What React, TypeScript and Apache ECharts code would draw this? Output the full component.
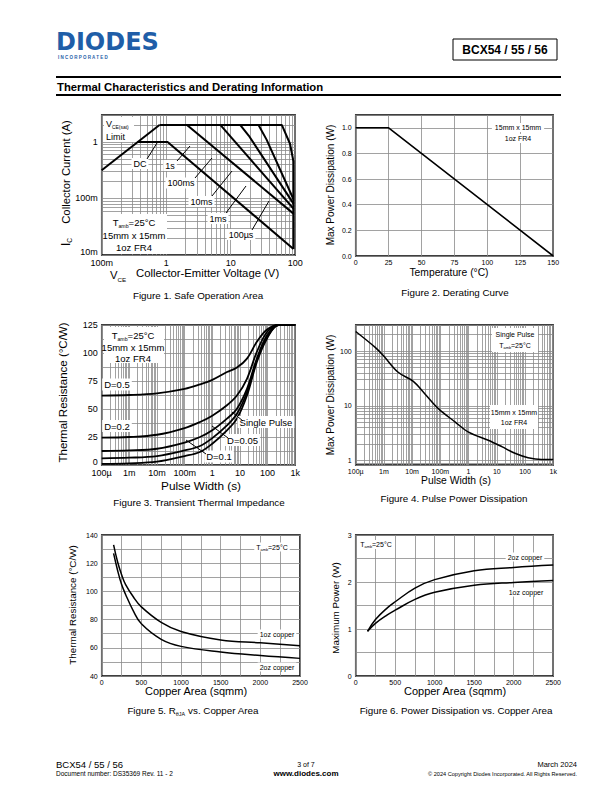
import React, { useEffect, useRef } from "react";
import * as echarts from "echarts";

const FONT = '"Liberation Sans", Arial, Helvetica, sans-serif';
const GRID = "#8a8a8a";

// ---------- Figure 1: Safe Operation Area (V, A) ----------
const soaLimit = [[0.1, 0.315], [0.786, 2.0]];
const soaDC = [[0.36, 1.0], [1.05, 1.0], [94, 0.0128]];
const soa1s = [[2.1, 2.0], [94, 0.054]];
const soa100ms = [[6.9, 2.0], [94, 0.066]];
const soa10ms = [[14, 2.0], [19, 1.3], [94, 0.081]];
const soa1ms = [[27, 2.0], [36, 1.1], [94, 0.097]];
const soa100us = [[0.786, 2.0], [62, 2.0], [83, 0.93], [94, 0.45], [94, 0.0128]];

// ---------- Figure 2: Derating curve ----------
const derating = [[0, 1.0], [25, 1.0], [150, 0.0]];

// ---------- Figure 3: Transient thermal impedance ----------
const pulseT = [1e-4, 1e-3, 1e-2, 0.1, 0.36, 1, 3.4, 7.8, 18, 41, 96, 250, 1000];
const zD05 = [62, 62.5, 64, 68, 72, 76, 83, 87, 95, 110, 121, 125, 125];
const zD02 = [24.5, 25, 27, 33, 38.4, 44, 53.3, 62, 77, 101, 118.8, 125, 125];
const zD01 = [12.5, 13, 14.5, 20, 25, 31, 41.4, 50.3, 68, 95, 115.8, 125, 125];
const zD005 = [6, 6.5, 8, 13, 17, 24, 35.4, 45.8, 65, 93.5, 114, 125, 125];
const zSingle = [1, 1.5, 3, 8, 11.6, 19, 31, 41.4, 62, 92, 113, 125, 125];

// ---------- Figure 4: Pulse power dissipation ----------
const ppT = [1e-4, 4.8e-4, 9.5e-4, 3.2e-3, 1.1e-2, 2.8e-2, 8.5e-2, 0.33, 1, 5, 15, 44, 129, 385, 1000];
const ppW = [228, 118, 83, 41, 28, 16.7, 8.9, 5.1, 3.3, 2.35, 1.8, 1.36, 1.13, 1.05, 1.05];

// ---------- Figure 5 / 6: copper area ----------
const cuArea = [150, 200, 250, 300, 400, 500, 750, 1000, 1500, 2000, 2500];
const rth1oz = [133, 121, 112, 105, 96, 89, 78, 71.5, 65.5, 63.5, 61.5];
const rth2oz = [127, 115, 105, 98, 86, 77, 66, 61, 57, 54.5, 52.5];
const pwArea = [150, 250, 400, 500, 750, 1000, 1500, 2000, 2500];
const pw2oz = [0.95, 1.2, 1.45, 1.58, 1.87, 2.05, 2.24, 2.31, 2.36];
const pw1oz = [0.95, 1.12, 1.3, 1.4, 1.63, 1.78, 1.93, 1.99, 2.03];

// tick label maps
const soaXLabels: Record<number, string> = { [-1]: "100m", 0: "1", 1: "10", 2: "100" };
const soaYLabels: Record<number, string> = { [-2]: "{lo|10m}", [-1]: "100m", 0: "1" };
const pulseLabels: Record<number, string> = { [-4]: "100\u00b5", [-3]: "1m", [-2]: "10m", [-1]: "100m", 0: "1", 1: "10", 2: "100", 3: "1k" };
const ppYLabels: Record<number, string> = { 0: "1", 1: "10", 2: "100" };

function logFmt(map: Record<number, string>) {
  return (v: number) => {
    const l = Math.log10(v);
    const e = Math.round(l);
    if (Math.abs(l - e) > 0.01) return "";
    return map[e] ?? "";
  };
}

function logMinors(lo: number, hi: number) {
  const out: number[] = [];
  for (let e = -6; e <= 4; e++) {
    for (let d = 2; d <= 9; d++) {
      const v = d * Math.pow(10, e);
      if (v > lo * 1.001 && v < hi * 0.999) out.push(v);
    }
  }
  return out;
}

function zip(xs: number[], ys: number[]) {
  return xs.map((x, i) => [x, ys[i]]);
}

function curve(idx: number, data: number[][], width = 2, smooth: number | boolean = false) {
  return {
    type: "line",
    xAxisIndex: idx,
    yAxisIndex: idx,
    data,
    symbol: "none",
    showSymbol: false,
    smooth,
    silent: true,
    z: 5,
    lineStyle: { color: "#000", width },
  };
}

function gridLines(idx: number, xr: number[], yr: number[], xs: number[], ys: number[], width = 0.8) {
  return {
    type: "line",
    xAxisIndex: idx,
    yAxisIndex: idx,
    data: [],
    silent: true,
    z: 1,
    markLine: {
      silent: true,
      animation: false,
      symbol: ["none", "none"],
      label: { show: false },
      emphasis: { disabled: true },
      lineStyle: { color: GRID, width, type: "solid" },
      data: [
        ...xs.map((v) => [{ coord: [v, yr[0]] }, { coord: [v, yr[1]] }]),
        ...ys.map((v) => [{ coord: [xr[0], v] }, { coord: [xr[1], v] }]),
      ],
    },
  };
}

function T(text: string, x: number, y: number, fontSize: number, o: any = {}) {
  return {
    type: "text",
    x,
    y,
    z: 100,
    silent: true,
    rotation: o.rot || 0,
    style: {
      text,
      fontSize,
      fontFamily: o.family || FONT,
      fontWeight: o.bold ? "bold" : "normal",
      fill: o.fill || "#000",
      align: o.align || "left",
      verticalAlign: "middle",
      backgroundColor: o.bg,
      padding: o.pad,
    },
  };
}

// rich text with subscripts
function R(parts: [string, boolean][], x: number, y: number, fs: number, o: any = {}) {
  const text = parts.map(([s, sub]) => `{${sub ? "s" : "n"}|${s}}`).join("");
  return {
    type: "text",
    x,
    y,
    z: 100,
    silent: true,
    rotation: o.rot || 0,
    style: {
      text,
      fontFamily: FONT,
      align: o.align || "left",
      verticalAlign: "middle",
      backgroundColor: o.bg,
      padding: o.pad,
      rich: {
        n: { fontSize: fs, lineHeight: fs * 1.3, fontFamily: FONT, fill: "#000", color: "#000", fontWeight: o.bold ? "bold" : "normal" },
        s: { fontSize: fs * 0.55, lineHeight: fs * 0.75, verticalAlign: "bottom", fontFamily: FONT, fill: "#000", color: "#000" },
      },
    },
  };
}

function L(x1: number, y1: number, x2: number, y2: number, w = 1) {
  return { type: "line", z: 101, silent: true, shape: { x1, y1, x2, y2 }, style: { stroke: "#000", lineWidth: w } };
}

function WR(x: number, y: number, w: number, h: number) {
  return { type: "rect", z: 99, silent: true, shape: { x, y, width: w, height: h }, style: { fill: "#fff" } };
}

const gridBase = { show: true, borderColor: "#000", borderWidth: 1.5, backgroundColor: "#fff", containLabel: false, outerBoundsMode: "none" };

function axisCommon(fs: number, margin: number, fmt?: any) {
  return {
    axisLine: { show: false },
    axisTick: { show: false },
    splitLine: { show: true, lineStyle: { color: GRID, width: 0.8 } },
    axisLabel: {
      fontFamily: FONT,
      fontSize: fs,
      color: "#000",
      margin,
      formatter: fmt,
      showMinLabel: true,
      showMaxLabel: true,
      hideOverlap: false,
      rich: { lo: { fontFamily: FONT, fontSize: fs, color: "#000", padding: [0, 0, 7, 0] } },
    },
  };
}

export default function App() {
  const ref = useRef<HTMLDivElement>(null);
  useEffect(() => {
    if (!ref.current) return;
    const chart = echarts.init(ref.current, undefined, { renderer: "svg" });

    const grids = [
      { left: 101.7, top: 115, width: 193.5, height: 140 },
      { left: 355.7, top: 115, width: 197.5, height: 141 },
      { left: 101.7, top: 325, width: 193.5, height: 140 },
      { left: 355.7, top: 325, width: 197.5, height: 140 },
      { left: 101.7, top: 535, width: 198.3, height: 141 },
      { left: 355.7, top: 535, width: 197.5, height: 141 },
    ].map((g) => ({ ...gridBase, ...g }));

    const minorLin = (n: number) => ({ minorTick: { show: false, splitNumber: n }, minorSplitLine: { show: true, lineStyle: { color: GRID, width: 0.8 } } });

    const xAxis = [
      { gridIndex: 0, type: "log", logBase: 10, min: 0.1, max: 100, ...axisCommon(9, 3, logFmt(soaXLabels)) },
      { gridIndex: 1, type: "value", min: 0, max: 150, interval: 25, ...axisCommon(7, 3, (v: number) => String(v)) },
      { gridIndex: 2, type: "log", logBase: 10, min: 1e-4, max: 1000, ...axisCommon(9, 3, logFmt(pulseLabels)) },
      { gridIndex: 3, type: "log", logBase: 10, min: 1e-4, max: 1000, ...axisCommon(7, 3, logFmt(pulseLabels)) },
      { gridIndex: 4, type: "value", min: 0, max: 2500, interval: 500, ...axisCommon(7, 3, (v: number) => String(v)), ...minorLin(2) },
      { gridIndex: 5, type: "value", min: 0, max: 2500, interval: 500, ...axisCommon(7, 3, (v: number) => String(v)), ...minorLin(2) },
    ];
    const yAxis = [
      { gridIndex: 0, type: "log", logBase: 10, min: 0.01, max: 3, ...axisCommon(9, 4, logFmt(soaYLabels)) },
      { gridIndex: 1, type: "value", min: 0, max: 1.1, interval: 0.2, ...axisCommon(7, 4, (v: number) => (v > 1.05 ? "" : v.toFixed(1))) },
      { gridIndex: 2, type: "value", min: 0, max: 125, interval: 25, ...axisCommon(9, 4, (v: number) => (v === 0 ? "{lo|0}" : String(v))), ...minorLin(2) },
      { gridIndex: 3, type: "log", logBase: 10, min: 0.83, max: 300, ...axisCommon(7, 4, logFmt(ppYLabels)) },
      { gridIndex: 4, type: "value", min: 40, max: 140, interval: 20, ...axisCommon(7, 4, (v: number) => String(v)), ...minorLin(2) },
      { gridIndex: 5, type: "value", min: 0, max: 3, interval: 1, ...axisCommon(7, 4, (v: number) => String(v)), ...minorLin(2) },
    ];

    const series: any[] = [
      gridLines(0, [0.1, 100], [0.01, 3], logMinors(0.1, 100), logMinors(0.01, 3)),
      gridLines(2, [1e-4, 1000], [0, 125], logMinors(1e-4, 1000), []),
      gridLines(3, [1e-4, 1000], [0.83, 300], logMinors(1e-4, 1000), logMinors(0.83, 300)),
      // fig 1
      curve(0, soaLimit, 2),
      curve(0, soaDC, 2),
      curve(0, soa1s, 2),
      curve(0, soa100ms, 2),
      curve(0, soa10ms, 2),
      curve(0, soa1ms, 2),
      curve(0, soa100us, 2),
      // fig 2
      curve(1, derating, 1.6),
      // fig 3
      curve(2, zip(pulseT, zD05), 1.8, 0.35),
      curve(2, zip(pulseT, zD02), 1.8, 0.35),
      curve(2, zip(pulseT, zD01), 1.8, 0.35),
      curve(2, zip(pulseT, zD005), 1.8, 0.35),
      curve(2, zip(pulseT, zSingle), 1.8, 0.35),
      // fig 4
      curve(3, zip(ppT, ppW), 1.5, 0.35),
      // fig 5
      curve(4, zip(cuArea, rth1oz), 1.5, 0.4),
      curve(4, zip(cuArea, rth2oz), 1.5, 0.4),
      // fig 6
      curve(5, zip(pwArea, pw2oz), 1.5, 0.4),
      curve(5, zip(pwArea, pw1oz), 1.5, 0.4),
    ];

    const rot = Math.PI / 2;
    const graphic: any[] = [
      // header
      T("DIODES", 56, 42, 24, { bold: true, family: '"DejaVu Sans", sans-serif', fill: "#1f5ea8" }),
      T("I N C O R P O R A T E D", 58, 57, 4.5, { bold: true, fill: "#1f5ea8" }),
      { type: "rect", z: 100, silent: true, shape: { x: 453, y: 39, width: 104, height: 21 }, style: { fill: "none", stroke: "#000", lineWidth: 1 } },
      T("BCX54 / 55 / 56", 505, 49.5, 12, { bold: true, align: "center" }),
      L(56, 77, 561, 77, 2),
      T("Thermal Characteristics and Derating Information", 57, 86.5, 11.3, { bold: true }),
      L(56, 95, 561, 95, 2),

      // ---- Fig 1 annotations
      WR(104, 117, 30, 25),
      R([["V", false], ["CE(sat)", true]], 106, 124, 9),
      T("Limit", 106, 137, 9),
      T("DC", 140, 163.5, 9, { align: "center", bg: "#fff", pad: [1, 2] }),
      L(147, 159, 157, 143),
      T("1s", 170, 165.5, 9, { align: "center", bg: "#fff", pad: [1, 2] }),
      L(177, 161, 190, 146),
      T("100ms", 181, 183, 9, { align: "center", bg: "#fff", pad: [1, 2] }),
      L(195, 178, 212, 158),
      T("10ms", 201.5, 201.5, 9, { align: "center", bg: "#fff", pad: [1, 2] }),
      L(212, 196, 232, 171),
      T("1ms", 218, 218.5, 9, { align: "center", bg: "#fff", pad: [1, 2] }),
      L(226, 213, 246, 186),
      T("100\u00b5s", 241, 234.5, 9, { align: "center", bg: "#fff", pad: [1, 2] }),
      L(252, 230, 269, 201),
      WR(103, 214, 64, 40),
      R([["T", false], ["amb", true], ["=25\u00b0C", false]], 134, 222, 9.5, { align: "center" }),
      T("15mm x 15mm", 134, 235, 9.5, { align: "center" }),
      T("1oz FR4", 134, 247.5, 9.5, { align: "center" }),
      // Fig 1 axis titles
      R([["I", false], ["C", true]], 65.5, 242, 12, { align: "center", rot }),
      T("Collector Current (A)", 65.5, 172, 11.3, { align: "center", rot }),
      R([["V", false], ["CE", true]], 110, 275, 11.3),
      T("Collector-Emitter Voltage (V)", 136, 273, 11.3),
      T("Figure 1. Safe Operation Area", 198, 295.5, 9.8, { align: "center" }),

      // ---- Fig 2
      T("15mm x 15mm", 518, 127.5, 7, { align: "center", bg: "#fff", pad: [1, 3] }),
      T("1oz FR4", 518, 138.5, 7, { align: "center", bg: "#fff", pad: [1, 3] }),
      T("Max Power Dissipation (W)", 330.5, 185, 10, { align: "center", rot }),
      T("Temperature (\u00b0C)", 449, 272.5, 10.3, { align: "center" }),
      T("Figure 2. Derating Curve", 455, 292, 9.8, { align: "center" }),

      // ---- Fig 3
      WR(104, 327, 60, 36),
      R([["T", false], ["amb", true], ["=25\u00b0C", false]], 133, 335.5, 9.5, { align: "center" }),
      T("15mm x 15mm", 133, 347.5, 9.5, { align: "center" }),
      T("1oz FR4", 133, 358.5, 9.5, { align: "center" }),
      T("D=0.5", 117, 384.5, 9.5, { align: "center", bg: "#fff", pad: [1, 2] }),
      T("D=0.2", 117, 426, 9.5, { align: "center", bg: "#fff", pad: [1, 2] }),
      T("Single Pulse", 266, 422, 9.5, { align: "center", bg: "#fff", pad: [1, 2] }),
      L(243, 421, 232, 412),
      T("D=0.05", 242.5, 440, 9.5, { align: "center", bg: "#fff", pad: [1, 2] }),
      L(228, 438, 212, 426),
      T("D=0.1", 219, 456.5, 9.5, { align: "center", bg: "#fff", pad: [1, 2] }),
      L(206, 454, 186, 440),
      T("Thermal Resistance (\u00b0C/W)", 62.5, 392.5, 11.5, { align: "center", rot }),
      T("Pulse Width (s)", 201, 485.5, 11.8, { align: "center" }),
      T("Figure 3. Transient Thermal Impedance", 199, 502.5, 9.8, { align: "center" }),

      // ---- Fig 4
      WR(492, 328, 46, 24),
      T("Single Pulse", 515, 334.5, 7, { align: "center" }),
      R([["T", false], ["amb", true], ["=25\u00b0C", false]], 515, 345.5, 7, { align: "center" }),
      WR(490, 405, 48, 24),
      T("15mm x 15mm", 514, 412.5, 7, { align: "center" }),
      T("1oz FR4", 514, 422.5, 7, { align: "center" }),
      T("Max Power Dissipation (W)", 330.5, 395, 10, { align: "center", rot }),
      T("Pulse Width (s)", 456, 480.5, 10.3, { align: "center" }),
      T("Figure 4. Pulse Power Dissipation", 454, 498.5, 9.8, { align: "center" }),

      // ---- Fig 5
      R([["T", false], ["amb", true], ["=25\u00b0C", false]], 272, 547, 7, { align: "center", bg: "#fff", pad: [0, 2] }),
      T("1oz copper", 277, 634, 7, { align: "center", bg: "#fff", pad: [1, 2] }),
      T("2oz copper", 277, 667, 7, { align: "center", bg: "#fff", pad: [1, 2] }),
      T("Thermal Resistance (\u00b0C/W)", 72, 605, 9.8, { align: "center", rot }),
      T("Copper Area (sqmm)", 196, 691, 11, { align: "center" }),
      R([["Figure 5. R", false], ["\u03b8JA", true], [" vs. Copper Area", false]], 193, 710, 9.8, { align: "center" }),

      // ---- Fig 6
      R([["T", false], ["amb", true], ["=25\u00b0C", false]], 376, 544.5, 7, { align: "center", bg: "#fff", pad: [0, 2] }),
      T("2oz copper", 525, 557, 7, { align: "center", bg: "#fff", pad: [1, 2] }),
      T("1oz copper", 526, 592, 7, { align: "center", bg: "#fff", pad: [1, 2] }),
      T("Maximum Power (W)", 335.5, 608, 9.8, { align: "center", rot }),
      T("Copper Area (sqmm)", 455, 691, 11, { align: "center" }),
      T("Figure 6. Power Dissipation vs. Copper Area", 456, 710, 9.8, { align: "center" }),

      // footer
      T("BCX54 / 55 / 56", 56, 764.5, 9.5),
      T("Document number: DS35369 Rev. 11 - 2", 56, 773.5, 6.5),
      T("3 of 7", 306, 764.5, 7, { align: "center" }),
      T("www.diodes.com", 306, 773.5, 8, { align: "center", bold: true }),
      T("March 2024", 577, 764.5, 7.5, { align: "right" }),
      T("\u00a9 2024 Copyright Diodes Incorporated. All Rights Reserved.", 577, 773.5, 5.6, { align: "right" }),
    ];

    chart.setOption({
      animation: false,
      backgroundColor: "#fff",
      textStyle: { fontFamily: FONT },
      grid: grids,
      xAxis,
      yAxis,
      series,
      graphic,
    });
    return () => chart.dispose();
  }, []);
  return <div ref={ref} style={{ position: "absolute", left: 0, top: 0, width: 612, height: 792, background: "#fff" }} />;
}
